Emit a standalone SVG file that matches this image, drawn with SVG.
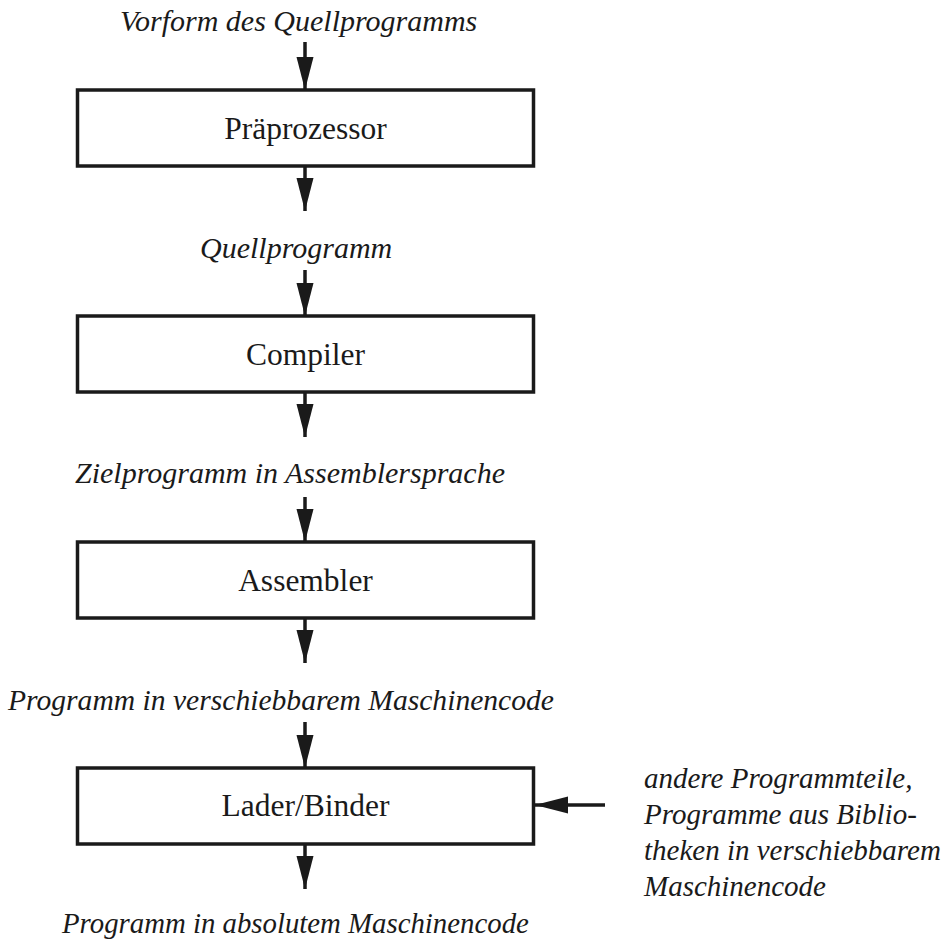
<svg xmlns="http://www.w3.org/2000/svg" width="949" height="941" viewBox="0 0 949 941">
<style>
.box{fill:#fff;stroke:#1a1a1a;stroke-width:3.5}
.lbl{font-family:"Liberation Serif","Times New Roman",serif;font-size:31.5px;fill:#1a1a1a}
.it{font-family:"Liberation Serif","Times New Roman",serif;font-size:30px;font-style:italic;fill:#1a1a1a}
.it2{font-family:"Liberation Serif","Times New Roman",serif;font-size:29px;font-style:italic;fill:#1a1a1a}
.con{stroke:#1a1a1a;stroke-width:3.5;fill:none;marker-end:url(#ah)}
</style>
<defs>
<marker id="ah" markerUnits="userSpaceOnUse" markerWidth="34" markerHeight="20" viewBox="0 0 34 20" refX="33" refY="10" orient="auto">
<path d="M0,1.5 L33,10 L0,18.5 Z" fill="#1a1a1a"/>
</marker>
</defs>
<rect width="949" height="941" fill="#fff"/>
<g id="connectors">
<line class="con" x1="305" y1="42" x2="305" y2="90"/>
<line class="con" x1="305" y1="166" x2="305" y2="211"/>
<line class="con" x1="305" y1="270" x2="305" y2="316"/>
<line class="con" x1="305" y1="392" x2="305" y2="437"/>
<line class="con" x1="305" y1="497" x2="305" y2="542"/>
<line class="con" x1="305" y1="618" x2="305" y2="663"/>
<line class="con" x1="305" y1="722" x2="305" y2="768"/>
<line class="con" x1="305" y1="844" x2="305" y2="889"/>
<line class="con" x1="605" y1="805" x2="535" y2="805"/>
</g>
<g id="label-vorform"><text class="it" x="120" y="31">Vorform des Quellprogramms</text></g>
<g id="node-praeprozessor">
<rect class="box" x="77.5" y="90" width="456" height="76"/>
<text class="lbl" x="305.5" y="139" text-anchor="middle">Präprozessor</text>
</g>
<g id="label-quell"><text class="it" x="200" y="258">Quellprogramm</text></g>
<g id="node-compiler">
<rect class="box" x="77.5" y="316" width="456" height="76"/>
<text class="lbl" x="305.5" y="365" text-anchor="middle">Compiler</text>
</g>
<g id="label-ziel"><text class="it" x="75" y="483">Zielprogramm in Assemblersprache</text></g>
<g id="node-assembler">
<rect class="box" x="77.5" y="542" width="456" height="76"/>
<text class="lbl" x="305.5" y="591" text-anchor="middle">Assembler</text>
</g>
<g id="label-verschiebbar"><text class="it" x="8" y="710" style="font-size:29.6px">Programm in verschiebbarem Maschinencode</text></g>
<g id="node-lader">
<rect class="box" x="77.5" y="768" width="456" height="76"/>
<text class="lbl" x="305.5" y="816" text-anchor="middle">Lader/Binder</text>
</g>
<g id="label-absolut"><text class="it" x="62" y="933" style="font-size:28.8px">Programm in absolutem Maschinencode</text></g>
<g id="label-andere">
<text class="it2" x="644" y="788">andere Programmteile,</text>
<text class="it2" x="644" y="824">Programme aus Biblio-</text>
<text class="it2" x="644" y="860">theken in verschiebbarem</text>
<text class="it2" x="644" y="896">Maschinencode</text>
</g>
</svg>
